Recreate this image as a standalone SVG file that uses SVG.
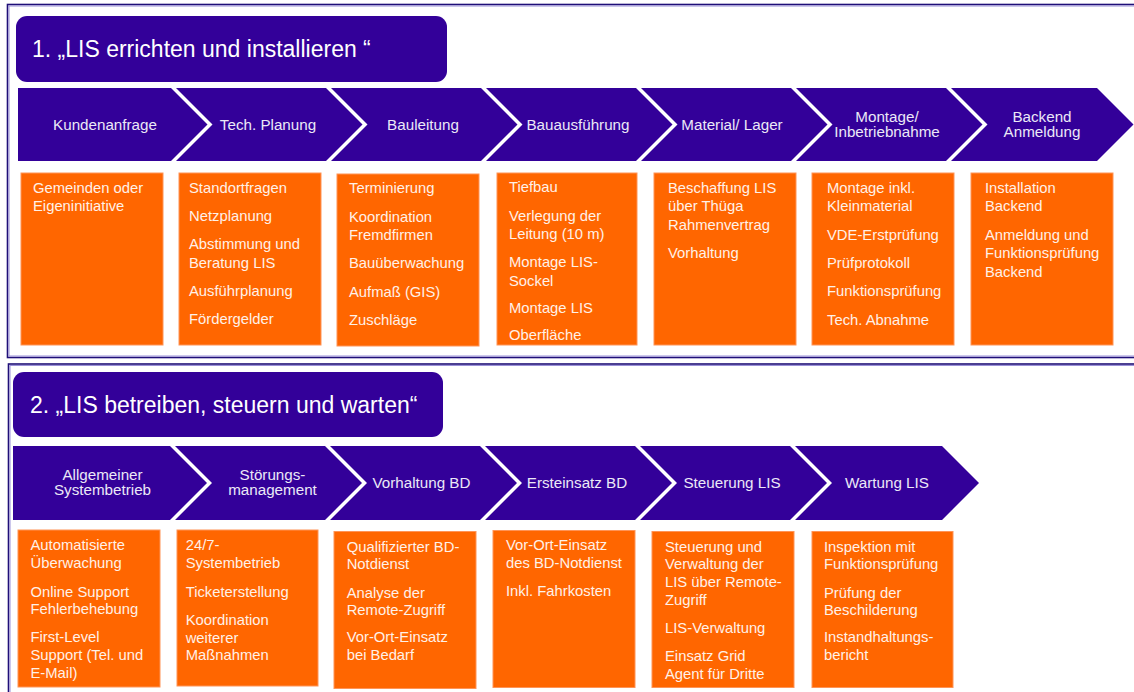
<svg xmlns="http://www.w3.org/2000/svg" width="1134" height="692" viewBox="0 0 1134 692">
<style>
.sec{fill:none;stroke:#1f0f78;stroke-width:1.6}
.seci{fill:none;stroke:#9a90d8;stroke-width:1}
.ttl{fill:#330099}
.ttx{font-family:"Liberation Sans",Arial,sans-serif;font-size:23px;fill:#ffffff}
.chev{fill:#330099}
.ctx{font-family:"Liberation Sans",Arial,sans-serif;font-size:15.2px;fill:#ebe8f7;text-anchor:middle}
.box{fill:#ff6600;stroke:#ff9457;stroke-width:1}
.btx{font-family:"Liberation Sans",Arial,sans-serif;font-size:14.8px;fill:#fff1e8}
</style>
<rect width="1134" height="692" fill="#ffffff"/>
<!-- section frames -->
<g id="frames">
<rect class="sec" x="7.5" y="4.5" width="1140" height="353"/>
<rect class="seci" x="9" y="6" width="1140" height="350"/>
<rect class="sec" x="8.5" y="364" width="1140" height="340"/>
<rect class="seci" x="10" y="365.5" width="1140" height="340"/>
</g>
<g id="connectors"></g>

<!-- Section 1 -->
<g id="title1">
<rect class="ttl" x="16" y="16" width="431" height="66" rx="11"/>
<text class="ttx" x="32" y="57">1. „LIS errichten und installieren “</text>
</g>

<g id="s1-kundenanfrage">
<polygon class="chev" points="18,88 171,88 207.5,124.5 171,161 18,161"/>
<text class="ctx" x="105" y="129.5">Kundenanfrage</text>
</g>
<g id="s1-planung">
<polygon class="chev" points="176,88 326,88 362.5,124.5 326,161 176,161 212.5,124.5"/>
<text class="ctx" x="268" y="129.5">Tech. Planung</text>
</g>
<g id="s1-bauleitung">
<polygon class="chev" points="331,88 481,88 517.5,124.5 481,161 331,161 367.5,124.5"/>
<text class="ctx" x="423" y="129.5">Bauleitung</text>
</g>
<g id="s1-bauausfuehrung">
<polygon class="chev" points="486,88 636,88 672.5,124.5 636,161 486,161 522.5,124.5"/>
<text class="ctx" x="578" y="129.5">Bauausführung</text>
</g>
<g id="s1-material">
<polygon class="chev" points="641,88 791,88 827.5,124.5 791,161 641,161 677.5,124.5"/>
<text class="ctx" x="732" y="129.5">Material/ Lager</text>
</g>
<g id="s1-montage">
<polygon class="chev" points="796,88 946,88 982.5,124.5 946,161 796,161 832.5,124.5"/>
<text class="ctx"><tspan x="887" y="122">Montage/</tspan><tspan x="887" y="137">Inbetriebnahme</tspan></text>
</g>
<g id="s1-backend">
<polygon class="chev" points="951,88 1097,88 1133.5,124.5 1097,161 951,161 987.5,124.5"/>
<text class="ctx"><tspan x="1042" y="122">Backend</tspan><tspan x="1042" y="137">Anmeldung</tspan></text>
</g>

<g id="s1-box1">
<rect class="box" x="21" y="173" width="142" height="172"/>
<text class="btx"><tspan x="33" y="192.5">Gemeinden oder</tspan><tspan x="33" y="211">Eigeninitiative</tspan></text>
</g>
<g id="s1-box2">
<rect class="box" x="179" y="173" width="142" height="172"/>
<text class="btx"><tspan x="189" y="192.5">Standortfragen</tspan><tspan x="189" y="221">Netzplanung</tspan><tspan x="189" y="249.3">Abstimmung und</tspan><tspan x="189" y="267.8">Beratung LIS</tspan><tspan x="189" y="296">Ausführplanung</tspan><tspan x="189" y="324.3">Fördergelder</tspan></text>
</g>
<g id="s1-box3">
<rect class="box" x="337" y="174" width="142" height="172"/>
<text class="btx"><tspan x="349" y="193.3">Terminierung</tspan><tspan x="349" y="221.7">Koordination</tspan><tspan x="349" y="240">Fremdfirmen</tspan><tspan x="349" y="268.3">Bauüberwachung</tspan><tspan x="349" y="296.7">Aufmaß (GIS)</tspan><tspan x="349" y="324.5">Zuschläge</tspan></text>
</g>
<g id="s1-box4">
<rect class="box" x="497" y="173" width="140" height="172"/>
<text class="btx"><tspan x="509" y="192">Tiefbau</tspan><tspan x="509" y="220.5">Verlegung der</tspan><tspan x="509" y="239">Leitung (10 m)</tspan><tspan x="509" y="267">Montage LIS-</tspan><tspan x="509" y="285.5">Sockel</tspan><tspan x="509" y="313">Montage LIS</tspan><tspan x="509" y="340">Oberfläche</tspan></text>
</g>
<g id="s1-box5">
<rect class="box" x="654" y="173" width="142" height="172"/>
<text class="btx"><tspan x="668" y="192.5">Beschaffung LIS</tspan><tspan x="668" y="211">über Thüga</tspan><tspan x="668" y="229.5">Rahmenvertrag</tspan><tspan x="668" y="257.5">Vorhaltung</tspan></text>
</g>
<g id="s1-box6">
<rect class="box" x="812" y="173" width="142" height="172"/>
<text class="btx"><tspan x="827" y="192.5">Montage inkl.</tspan><tspan x="827" y="211">Kleinmaterial</tspan><tspan x="827" y="239.5">VDE-Erstprüfung</tspan><tspan x="827" y="268">Prüfprotokoll</tspan><tspan x="827" y="296">Funktionsprüfung</tspan><tspan x="827" y="324.5">Tech. Abnahme</tspan></text>
</g>
<g id="s1-box7">
<rect class="box" x="971" y="173" width="142" height="172"/>
<text class="btx"><tspan x="985" y="192.5">Installation</tspan><tspan x="985" y="211">Backend</tspan><tspan x="985" y="239.5">Anmeldung und</tspan><tspan x="985" y="258">Funktionsprüfung</tspan><tspan x="985" y="276.5">Backend</tspan></text>
</g>

<!-- Section 2 -->
<g id="title2">
<rect class="ttl" x="13" y="372" width="430" height="65" rx="11"/>
<text class="ttx" x="30" y="413">2. „LIS betreiben, steuern und warten“</text>
</g>

<g id="s2-systembetrieb">
<polygon class="chev" points="13,446 170,446 207,483 170,520 13,520"/>
<text class="ctx"><tspan x="102.5" y="479.5">Allgemeiner</tspan><tspan x="102.5" y="494.5">Systembetrieb</tspan></text>
</g>
<g id="s2-stoerung">
<polygon class="chev" points="175,446 325,446 362,483 325,520 175,520 212,483"/>
<text class="ctx"><tspan x="272.5" y="479.5">Störungs-</tspan><tspan x="272.5" y="494.5">management</tspan></text>
</g>
<g id="s2-vorhaltung">
<polygon class="chev" points="330,446 480,446 517,483 480,520 330,520 367,483"/>
<text class="ctx" x="421.5" y="487.5">Vorhaltung BD</text>
</g>
<g id="s2-ersteinsatz">
<polygon class="chev" points="485,446 635,446 672,483 635,520 485,520 522,483"/>
<text class="ctx" x="577" y="487.5">Ersteinsatz BD</text>
</g>
<g id="s2-steuerung">
<polygon class="chev" points="640,446 790,446 827,483 790,520 640,520 677,483"/>
<text class="ctx" x="732" y="487.5">Steuerung LIS</text>
</g>
<g id="s2-wartung">
<polygon class="chev" points="795,446 942,446 979,483 942,520 795,520 832,483"/>
<text class="ctx" x="887" y="487.5">Wartung LIS</text>
</g>

<g id="s2-box1">
<rect class="box" x="18" y="530" width="142" height="157"/>
<text class="btx"><tspan x="30.5" y="550">Automatisierte</tspan><tspan x="30.5" y="568.3">Überwachung</tspan><tspan x="30.5" y="596.7">Online Support</tspan><tspan x="30.5" y="614.3">Fehlerbehebung</tspan><tspan x="30.5" y="642.3">First-Level</tspan><tspan x="30.5" y="660">Support (Tel. und</tspan><tspan x="30.5" y="677.7">E-Mail)</tspan></text>
</g>
<g id="s2-box2">
<rect class="box" x="177" y="530" width="141" height="156"/>
<text class="btx"><tspan x="185.7" y="550">24/7-</tspan><tspan x="185.7" y="568.3">Systembetrieb</tspan><tspan x="185.7" y="596.7">Ticketerstellung</tspan><tspan x="185.7" y="625">Koordination</tspan><tspan x="185.7" y="642.7">weiterer</tspan><tspan x="185.7" y="660">Maßnahmen</tspan></text>
</g>
<g id="s2-box3">
<rect class="box" x="334" y="531.5" width="142" height="157"/>
<text class="btx"><tspan x="346.7" y="551.7">Qualifizierter BD-</tspan><tspan x="346.7" y="569.3">Notdienst</tspan><tspan x="346.7" y="597.7">Analyse der</tspan><tspan x="346.7" y="615">Remote-Zugriff</tspan><tspan x="346.7" y="642.3">Vor-Ort-Einsatz</tspan><tspan x="346.7" y="660">bei Bedarf</tspan></text>
</g>
<g id="s2-box4">
<rect class="box" x="493" y="530.5" width="142" height="157"/>
<text class="btx"><tspan x="506" y="550">Vor-Ort-Einsatz</tspan><tspan x="506" y="567.7">des BD-Notdienst</tspan><tspan x="506" y="596">Inkl. Fahrkosten</tspan></text>
</g>
<g id="s2-box5">
<rect class="box" x="652" y="531.5" width="142" height="156"/>
<text class="btx"><tspan x="665" y="551.7">Steuerung und</tspan><tspan x="665" y="569.3">Verwaltung der</tspan><tspan x="665" y="587.3">LIS über Remote-</tspan><tspan x="665" y="605">Zugriff</tspan><tspan x="665" y="633.3">LIS-Verwaltung</tspan><tspan x="665" y="661">Einsatz Grid</tspan><tspan x="665" y="679">Agent für Dritte</tspan></text>
</g>
<g id="s2-box6">
<rect class="box" x="812" y="531.5" width="141" height="156"/>
<text class="btx"><tspan x="824" y="551.7">Inspektion mit</tspan><tspan x="824" y="569.3">Funktionsprüfung</tspan><tspan x="824" y="597.7">Prüfung der</tspan><tspan x="824" y="615">Beschilderung</tspan><tspan x="824" y="642.3">Instandhaltungs-</tspan><tspan x="824" y="660">bericht</tspan></text>
</g>
</svg>
